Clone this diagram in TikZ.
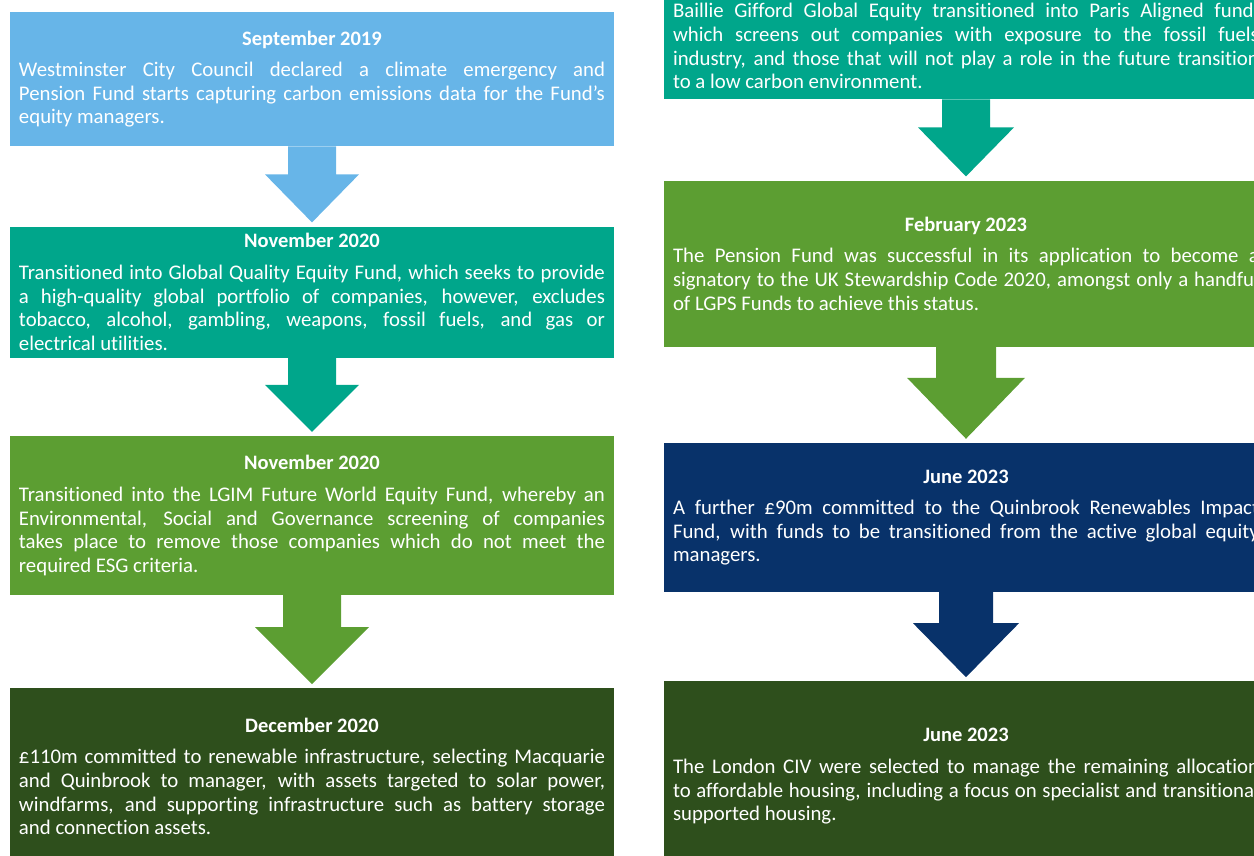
\documentclass[tikz,border=0pt]{standalone}
\usepackage{fontspec}
\setmainfont{Carlito}[Ligatures=NoCommon]
\usetikzlibrary{calc,positioning}

\definecolor{skyblue}{HTML}{67B5E8}
\definecolor{fundteal}{HTML}{00A68B}
\definecolor{leafgreen}{HTML}{5C9E32}
\definecolor{deepnavy}{HTML}{08326A}
\definecolor{forestgreen}{HTML}{2E4F1C}

\newcommand{\bodyfont}{\fontsize{20.8}{23.6}\selectfont
  \hyphenpenalty=10000\relax\exhyphenpenalty=10000\relax}
\newcommand{\stagetitle}[1]{{\centering\fontsize{20.5}{24}\selectfont\bfseries #1\par}\vspace{8pt}}
% block arrow: from, to, colour, shaft half-width, head half-width, shaft length
\newcommand{\blockarrow}[6]{%
  \fill[#3] ($(#1.south)+(-#4,0)$) -- ++(0,-#6) -- ($(#1.south)+(-#5,-#6)$)
     -- ($(#2.north)+(0,4)$) -- ($(#1.south)+(#5,-#6)$) -- ($(#1.south)+(#4,-#6)$)
     -- ($(#1.south)+(#4,0)$) -- cycle;}

\tikzset{
     stage/.style = {rectangle, fill=#1, text=white, text width=586pt,
                     inner xsep=9pt, inner ysep=0pt, align=justify,
                     font=\bodyfont},
    }

\begin{document}
\begin{tikzpicture}[x=1pt,y=1pt]
        \useasboundingbox (0,0) rectangle (1254,856);
        \clip (0,0) rectangle (1254,856);

        % left column
        \node [stage=skyblue, minimum height=134pt, anchor=north] (sep19) at (312,844) {%
          \stagetitle{September 2019}
          Westminster City Council declared a climate emergency and\linebreak
          Pension Fund starts capturing carbon emissions data for the Fund{\char"27}s\linebreak
          equity managers.};
        \node [stage=fundteal, minimum height=131pt, below=80pt of sep19] (nov20a) {%
          \stagetitle{November 2020}
          Transitioned into Global Quality Equity Fund, which seeks to provide\linebreak
          a high-quality global portfolio of companies, however, excludes\linebreak
          tobacco, alcohol, gambling, weapons, fossil fuels, and gas or\linebreak
          electrical utilities.};
        \node [stage=leafgreen, minimum height=159pt, below=78pt of nov20a] (nov20b) {%
          \stagetitle{November 2020}
          Transitioned into the LGIM Future World Equity Fund, whereby an\linebreak
          Environmental, Social and Governance screening of companies\linebreak
          takes place to remove those companies which do not meet the\linebreak
          required ESG criteria.};
        \node [stage=forestgreen, minimum height=176pt, below=93pt of nov20b] (dec20) {%
          \stagetitle{December 2020}
          £110m committed to renewable infrastructure, selecting Macquarie\linebreak
          and Quinbrook to manager, with assets targeted to solar power,\linebreak
          windfarms, and supporting infrastructure such as battery storage\linebreak
          and connection assets.};

        % right column
        \node [stage=fundteal, minimum height=106pt, anchor=north] (paris) at (966,863) {%
          Baillie Gifford Global Equity transitioned into Paris Aligned fund,\linebreak
          which screens out companies with exposure to the fossil fuels\linebreak
          industry, and those that will not play a role in the future transition\linebreak
          to a low carbon environment.};
        \node [stage=leafgreen, minimum height=166pt, below=81pt of paris] (feb23) {%
          \stagetitle{February 2023}
          The Pension Fund was successful in its application to become a\linebreak
          signatory to the UK Stewardship Code 2020, amongst only a handful\linebreak
          of LGPS Funds to achieve this status.};
        \node [stage=deepnavy, minimum height=149pt, below=96pt of feb23] (jun23a) {%
          \stagetitle{June 2023}
          A further £90m committed to the Quinbrook Renewables Impact\linebreak
          Fund, with funds to be transitioned from the active global equity\linebreak
          managers.};
        \node [stage=forestgreen, minimum height=190pt, below=89pt of jun23a] (jun23b) {%
          \stagetitle{June 2023}
          The London CIV were selected to manage the remaining allocation\linebreak
          to affordable housing, including a focus on specialist and transitional\linebreak
          supported housing.};

        \blockarrow{sep19}{nov20a}{skyblue}{24}{47}{28}
        \blockarrow{nov20a}{nov20b}{fundteal}{24}{47}{27}
        \blockarrow{nov20b}{dec20}{leafgreen}{29}{57}{32}
        \blockarrow{paris}{feb23}{fundteal}{24}{48}{28}
        \blockarrow{feb23}{jun23a}{leafgreen}{30}{59}{31}
        \blockarrow{jun23a}{jun23b}{deepnavy}{27}{53}{31}
    \end{tikzpicture}
\end{document}
